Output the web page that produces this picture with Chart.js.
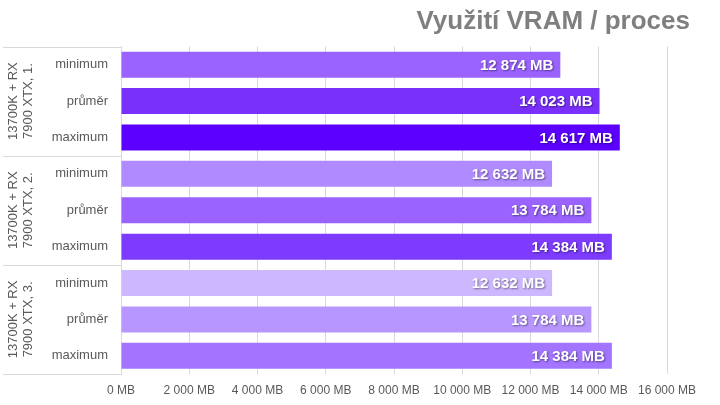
<!DOCTYPE html>
<html>
<head>
<meta charset="utf-8">
<script src="https://cdn.jsdelivr.net/npm/chart.js@4/dist/chart.umd.min.js"></script>
<style>
html,body{margin:0;padding:0;background:#fff;}
#wrap{width:720px;height:405px;position:relative;}
</style>
</head>
<body>
<div id="wrap"><canvas id="c" width="720" height="405"></canvas></div>
<script>
const title = "Využití VRAM / proces";
const groups = [["13700K + RX", "7900 XTX, 1."], ["13700K + RX", "7900 XTX, 2."], ["13700K + RX", "7900 XTX, 3."]];
const items = ["minimum", "průměr", "maximum"];
const values = [12874, 14023, 14617, 12632, 13784, 14384, 12632, 13784, 14384];
const colors = ["#9a62ff", "#7a30fb", "#5c00ff", "#b08bff", "#9a62ff", "#7d3bff", "#cdb8ff", "#b896ff", "#a274ff"];
const xTicks = [0, 2000, 4000, 6000, 8000, 10000, 12000, 14000, 16000];

const labels = [];
groups.forEach((g, gi) => items.forEach(it => labels.push(gi + "|" + it)));

function fmt(v) {
  return String(v).replace(/\B(?=(\d{3})+(?!\d))/g, " ") + " MB";
}

const FONT = "'Liberation Sans', Arial, sans-serif";

const customPlugin = {
  id: 'custom',
  afterDraw(chart) {
    const ctx = chart.ctx;
    const ca = chart.chartArea;
    const yScale = chart.scales.y;
    ctx.save();
    // title
    ctx.font = "bold 26px " + FONT;
    ctx.fillStyle = "#7f7f7f";
    ctx.textAlign = "right";
    ctx.textBaseline = "alphabetic";
    ctx.fillText(title, 690, 29);

    // category boxes
    const band = (ca.bottom - ca.top) / labels.length;
    ctx.strokeStyle = "#d9d9d9";
    ctx.lineWidth = 1;
    for (let g = 0; g <= groups.length; g++) {
      const y = Math.round(ca.top + g * items.length * band) + 0.5;
      ctx.beginPath();
      ctx.moveTo(3, y);
      ctx.lineTo(ca.left, y);
      ctx.stroke();
    }
    // item labels
    ctx.font = "13px " + FONT;
    ctx.fillStyle = "#595959";
    ctx.textAlign = "right";
    ctx.textBaseline = "middle";
    labels.forEach((l, i) => {
      const y = yScale.getPixelForValue(i);
      ctx.fillText(l.split("|")[1], 108, y);
    });
    // group labels rotated
    groups.forEach((g, gi) => {
      const yc = ca.top + (gi * items.length + items.length / 2) * band;
      ctx.save();
      ctx.translate(21, yc);
      ctx.rotate(-Math.PI / 2);
      ctx.textAlign = "center";
      ctx.textBaseline = "middle";
      ctx.font = "13px " + FONT;
      ctx.fillStyle = "#595959";
      ctx.fillText(g[0], 0, -7.5);
      ctx.fillText(g[1], 0, 7.5);
      ctx.restore();
    });

    // data labels
    const meta = chart.getDatasetMeta(0);
    ctx.font = "bold 15px " + FONT;
    ctx.textAlign = "right";
    ctx.textBaseline = "middle";
    ctx.fillStyle = "#ffffff";
    ctx.shadowColor = "rgba(0,0,0,0.45)";
    ctx.shadowBlur = 2;
    ctx.shadowOffsetX = 1;
    ctx.shadowOffsetY = 1;
    meta.data.forEach((bar, i) => {
      ctx.fillText(fmt(values[i]), bar.x - 7, bar.y + 1);
    });
    ctx.restore();
  }
};

new Chart(document.getElementById('c'), {
  type: 'bar',
  data: {
    labels: labels,
    datasets: [{
      data: values,
      backgroundColor: colors,
      borderWidth: 0,
      categoryPercentage: 1.0,
      barPercentage: 0.715
    }]
  },
  options: {
    indexAxis: 'y',
    responsive: false,
    animation: false,
    devicePixelRatio: 1,
    layout: { padding: { top: 46.5, right: 53, bottom: 0, left: 0 } },
    plugins: {
      legend: { display: false },
      tooltip: { enabled: false },
      title: { display: false }
    },
    scales: {
      x: {
        min: 0,
        max: 16000,
        afterBuildTicks(scale) { scale.ticks = xTicks.map(v => ({ value: v })); },
        afterFit(scale) { scale.height = 31; },
        grid: { color: "#d9d9d9", drawTicks: false, lineWidth: 1 },
        border: { display: false },
        ticks: {
          padding: 9,
          color: "#595959",
          font: { size: 12, family: FONT },
          callback: v => fmt(v),
          maxRotation: 0,
          autoSkip: false
        }
      },
      y: {
        afterFit(scale) { scale.width = 121; },
        grid: { display: false },
        border: { display: true, color: "#d9d9d9" },
        ticks: { display: false }
      }
    }
  },
  plugins: [customPlugin]
});
</script>
</body>
</html>
